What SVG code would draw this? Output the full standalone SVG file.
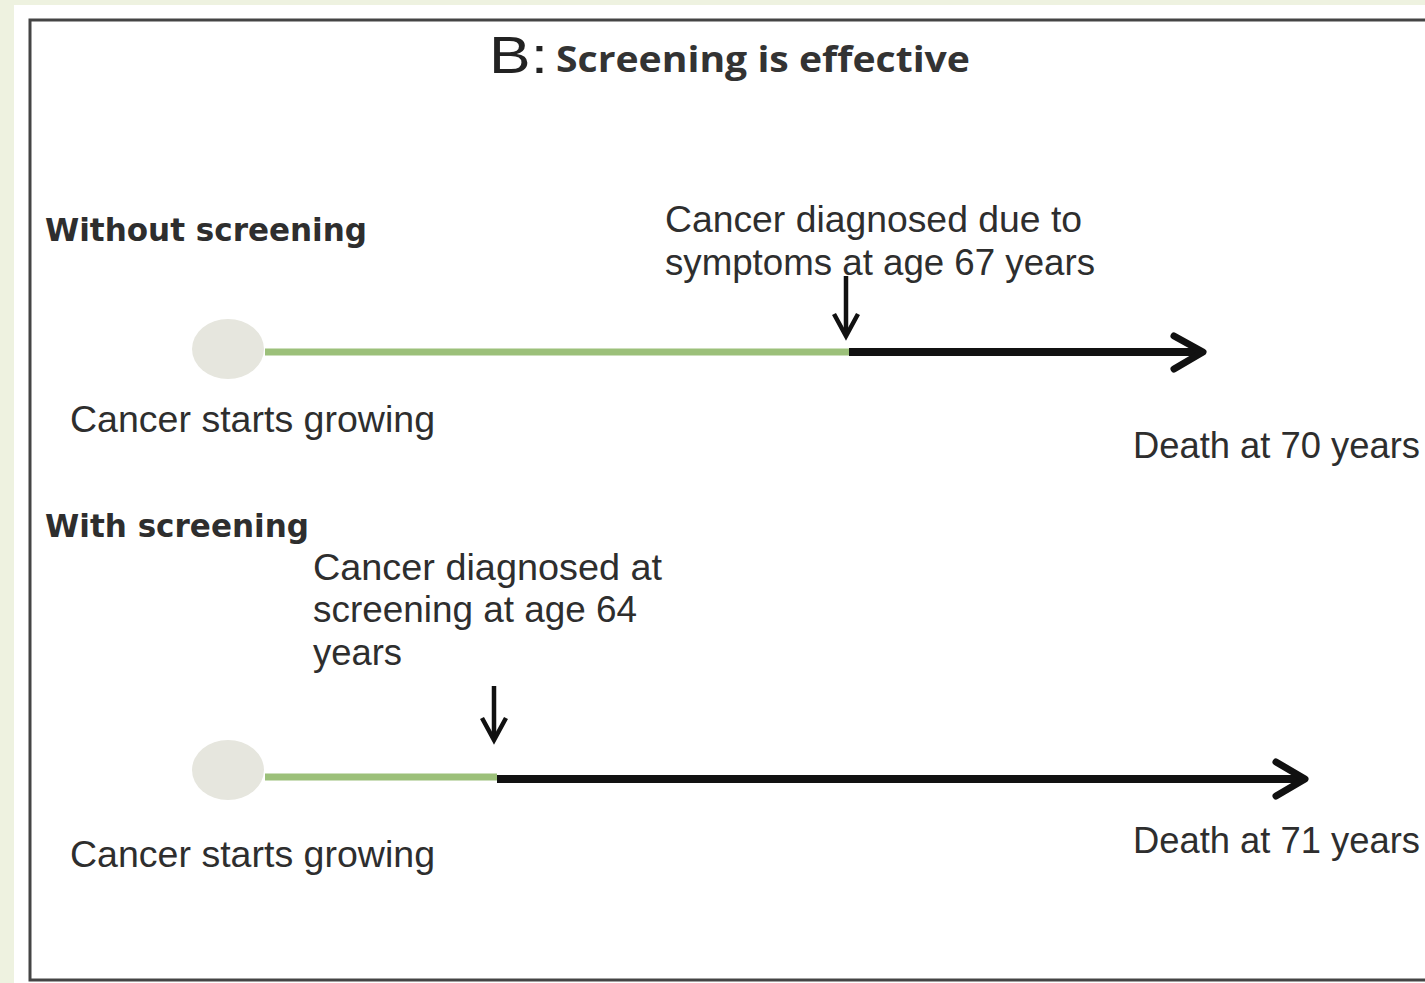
<svg xmlns="http://www.w3.org/2000/svg" width="1425" height="983" viewBox="0 0 1425 983">
<defs>
<style>
.t{font-family:"Liberation Sans",Arial,sans-serif;font-size:36px;fill:#2e2e2e;}
.b{font-family:"DejaVu Sans",Verdana,sans-serif;font-weight:bold;font-size:32px;fill:#2e2e2e;}
.g{stroke:#9cc07a;stroke-width:7;fill:none;}
.k{stroke:#111;stroke-width:8;fill:none;}
.h{stroke:#111;stroke-width:7;fill:none;stroke-linecap:round;stroke-linejoin:round;}
.s{stroke:#111;stroke-width:4.5;fill:none;}
.c{fill:#e6e6de;}
</style>
</defs>
<rect x="0" y="0" width="1425" height="983" fill="#eef2e0"/>
<rect x="14" y="5" width="1420" height="990" fill="#ffffff"/>
<rect x="30" y="20" width="1420" height="960" fill="#ffffff" stroke="#444" stroke-width="3"/>
<g id="title">
<text x="489" y="73" font-family="'Liberation Sans',sans-serif" font-size="52" fill="#222" textLength="59" lengthAdjust="spacingAndGlyphs">B:</text>
<text x="556" y="72" font-family="'Open Sans','Liberation Sans',sans-serif" font-weight="bold" font-size="35" fill="#333" textLength="414" lengthAdjust="spacingAndGlyphs">Screening is effective</text>
</g>
<g id="without-label"><text class="b" x="45" y="241" textLength="322" lengthAdjust="spacingAndGlyphs">Without screening</text></g>
<g id="with-label"><text class="b" x="45" y="537" textLength="264" lengthAdjust="spacingAndGlyphs">With screening</text></g>
<g id="start1">
<ellipse class="c" cx="228" cy="349" rx="36" ry="30"/>
<text class="t" x="70" y="432" textLength="365" lengthAdjust="spacingAndGlyphs">Cancer starts growing</text>
</g>
<g id="diag1">
<text class="t" x="665" y="232" textLength="417" lengthAdjust="spacingAndGlyphs">Cancer diagnosed due to</text>
<text class="t" x="665" y="275" textLength="430" lengthAdjust="spacingAndGlyphs">symptoms at age 67 years</text>
</g>
<g id="death1"><text class="t" x="1133" y="458" textLength="287" lengthAdjust="spacingAndGlyphs">Death at 70 years</text></g>
<g id="start2">
<ellipse class="c" cx="228" cy="770" rx="36" ry="30"/>
<text class="t" x="70" y="867" textLength="365" lengthAdjust="spacingAndGlyphs">Cancer starts growing</text>
</g>
<g id="diag2">
<text class="t" x="313" y="580" textLength="349" lengthAdjust="spacingAndGlyphs">Cancer diagnosed at</text>
<text class="t" x="313" y="622" textLength="324" lengthAdjust="spacingAndGlyphs">screening at age 64</text>
<text class="t" x="313" y="665" textLength="89" lengthAdjust="spacingAndGlyphs">years</text>
</g>
<g id="death2"><text class="t" x="1133" y="853" textLength="287" lengthAdjust="spacingAndGlyphs">Death at 71 years</text></g>
<g id="connectors">
<line class="g" x1="265" y1="352" x2="849" y2="352"/>
<line class="k" x1="849" y1="352" x2="1200" y2="352"/>
<polyline class="h" points="1174,336 1203,352 1174,369"/>
<line class="s" x1="846" y1="276" x2="846" y2="334"/>
<polyline class="s" points="834,314 846,336 858,314"/>
<line class="g" x1="265" y1="777" x2="497" y2="777"/>
<line class="k" x1="497" y1="779" x2="1302" y2="779"/>
<polyline class="h" points="1276,762 1305,779 1276,796"/>
<line class="s" x1="494" y1="686" x2="494" y2="738"/>
<polyline class="s" points="482,718 494,740 506,718"/>
</g>
</svg>
